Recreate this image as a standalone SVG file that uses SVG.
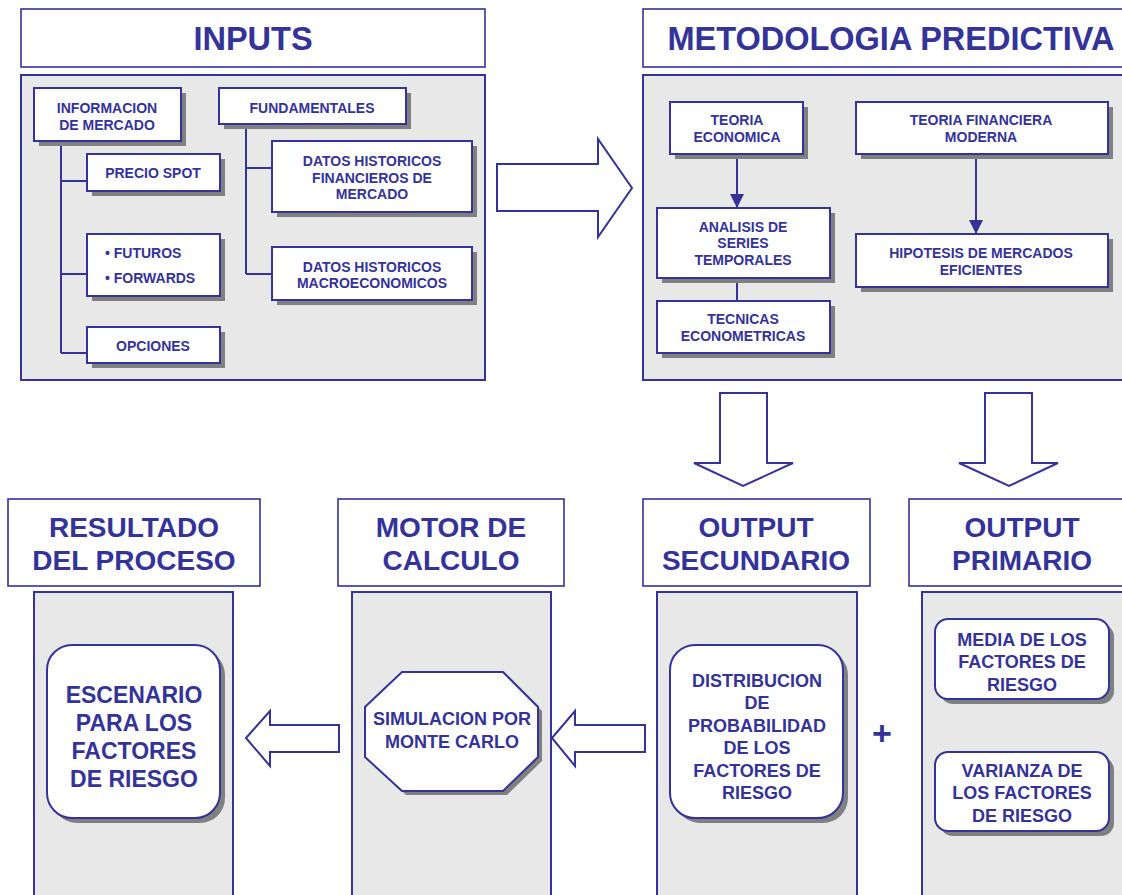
<svg xmlns="http://www.w3.org/2000/svg" width="1122" height="895" viewBox="0 0 1122 895">
<style>
text{font-family:"Liberation Sans",Arial,sans-serif;font-weight:bold;fill:#333399;text-anchor:middle}
.t32{font-size:32.5px}.t28{font-size:28px}.t23{font-size:23px}.t18{font-size:18px}.t14{font-size:14px}
.title{fill:#fff;stroke:#333399;stroke-width:1.6}
.panel{fill:#e8e8e8;stroke:#333399;stroke-width:2}
.box{fill:#fff;stroke:#333399;stroke-width:2}
.sh{fill:#808080;stroke:none}
.bigarrow{fill:#fff;stroke:#333399;stroke-width:2;stroke-linejoin:miter}
.line{fill:none;stroke:#333399;stroke-width:2}
</style>
<defs>
<marker id="ah" viewBox="0 0 14 14" refX="14" refY="7" markerWidth="14" markerHeight="14" markerUnits="userSpaceOnUse" orient="auto"><path d="M0,0 L14,7 L0,14 Z" fill="#333399"/></marker>
</defs>

<!-- Section headers and panels -->
<g id="inputs-title"><rect class="title" x="21" y="9" width="464" height="58"/><text class="t32" x="253" y="50">INPUTS</text></g>
<g id="inputs-panel"><rect class="panel" x="21" y="75" width="464" height="305"/></g>
<g id="metodologia-title"><rect class="title" x="643" y="9" width="496" height="58"/><text class="t32" x="891" y="50">METODOLOGIA PREDICTIVA</text></g>
<g id="metodologia-panel"><rect class="panel" x="643" y="75" width="496" height="305"/></g>
<g id="resultado-title"><rect class="title" x="8" y="499" width="252" height="87"/><text class="t28" x="134" y="537">RESULTADO</text><text class="t28" x="134" y="570">DEL PROCESO</text></g>
<g id="resultado-panel"><rect class="panel" x="34" y="592" width="199" height="310"/></g>
<g id="motor-title"><rect class="title" x="338" y="499" width="226" height="87"/><text class="t28" x="451" y="537">MOTOR DE</text><text class="t28" x="451" y="570">CALCULO</text></g>
<g id="motor-panel"><rect class="panel" x="352" y="592" width="199" height="310"/></g>
<g id="secundario-title"><rect class="title" x="643" y="499" width="227" height="87"/><text class="t28" x="756" y="537">OUTPUT</text><text class="t28" x="756" y="570">SECUNDARIO</text></g>
<g id="secundario-panel"><rect class="panel" x="657" y="592" width="200" height="310"/></g>
<g id="primario-title"><rect class="title" x="909" y="499" width="226" height="87"/><text class="t28" x="1022" y="537">OUTPUT</text><text class="t28" x="1022" y="570">PRIMARIO</text></g>
<g id="primario-panel"><rect class="panel" x="922" y="592" width="204" height="310"/></g>

<g id="connectors">
<path class="line" d="M61,141 V353 M61,181 H87 M61,274 H87 M61,353 H87"/>
<path class="line" d="M246,124 V274 M246,168 H272 M246,274 H272"/>
<path class="line" d="M737,154 V208" marker-end="url(#ah)"/>
<path class="line" d="M976,154 V234" marker-end="url(#ah)"/>
<path class="line" d="M737,278 V301"/>
<polygon class="bigarrow" points="497,164 598,164 598,139 632,188 598,237 598,211 497,211"/>
<polygon class="bigarrow" points="720,393 767,393 767,463 793,463 743,486 694,463 720,463"/>
<polygon class="bigarrow" points="985,393 1032,393 1032,463 1058,463 1009,486 959,463 985,463"/>
<polygon class="bigarrow" points="552,738 575,711 575,725 645,725 645,752 575,752 575,766"/>
<polygon class="bigarrow" points="246,738 270,711 270,725 339,725 339,752 270,752 270,766"/>
</g>

<g id="informacion"><rect class="sh" x="39" y="93" width="147" height="53"/><rect class="box" x="34" y="88" width="147" height="53"/><text class="t14" x="107" y="113">INFORMACION</text><text class="t14" x="107" y="130">DE MERCADO</text></g>
<g id="fundamentales"><rect class="sh" x="224" y="93" width="187" height="36"/><rect class="box" x="219" y="88" width="187" height="36"/><text class="t14" x="312" y="113">FUNDAMENTALES</text></g>
<g id="precio-spot"><rect class="sh" x="92" y="159" width="133" height="37"/><rect class="box" x="87" y="154" width="133" height="37"/><text class="t14" x="153" y="178">PRECIO SPOT</text></g>
<g id="futuros"><rect class="sh" x="92" y="239" width="133" height="62"/><rect class="box" x="87" y="234" width="133" height="62"/><text class="t14" x="105" y="258" style="text-anchor:start">• FUTUROS</text><text class="t14" x="105" y="283" style="text-anchor:start">• FORWARDS</text></g>
<g id="opciones"><rect class="sh" x="92" y="332" width="133" height="36"/><rect class="box" x="87" y="327" width="133" height="36"/><text class="t14" x="153" y="351">OPCIONES</text></g>
<g id="datos-fin"><rect class="sh" x="277" y="146" width="200" height="71"/><rect class="box" x="272" y="141" width="200" height="71"/><text class="t14" x="372" y="166">DATOS HISTORICOS</text><text class="t14" x="372" y="183">FINANCIEROS DE</text><text class="t14" x="372" y="199">MERCADO</text></g>
<g id="datos-macro"><rect class="sh" x="277" y="252" width="200" height="53"/><rect class="box" x="272" y="247" width="200" height="53"/><text class="t14" x="372" y="272">DATOS HISTORICOS</text><text class="t14" x="372" y="288">MACROECONOMICOS</text></g>

<g id="teoria-eco"><rect class="sh" x="675" y="107" width="133" height="52"/><rect class="box" x="670" y="102" width="133" height="52"/><text class="t14" x="737" y="125">TEORIA</text><text class="t14" x="737" y="142">ECONOMICA</text></g>
<g id="teoria-fin"><rect class="sh" x="861" y="107" width="252" height="52"/><rect class="box" x="856" y="102" width="252" height="52"/><text class="t14" x="981" y="125">TEORIA FINANCIERA</text><text class="t14" x="981" y="142">MODERNA</text></g>
<g id="analisis"><rect class="sh" x="662" y="213" width="173" height="70"/><rect class="box" x="657" y="208" width="173" height="70"/><text class="t14" x="743" y="232">ANALISIS DE</text><text class="t14" x="743" y="248">SERIES</text><text class="t14" x="743" y="265">TEMPORALES</text></g>
<g id="tecnicas"><rect class="sh" x="662" y="306" width="173" height="52"/><rect class="box" x="657" y="301" width="173" height="52"/><text class="t14" x="743" y="324">TECNICAS</text><text class="t14" x="743" y="341">ECONOMETRICAS</text></g>
<g id="hipotesis"><rect class="sh" x="861" y="239" width="252" height="53"/><rect class="box" x="856" y="234" width="252" height="53"/><text class="t14" x="981" y="258">HIPOTESIS DE MERCADOS</text><text class="t14" x="981" y="275">EFICIENTES</text></g>

<g id="escenario"><rect class="sh" x="52" y="650" width="173" height="173" rx="25"/><rect class="box" x="47" y="645" width="173" height="173" rx="25"/><text class="t23" x="134" y="703">ESCENARIO</text><text class="t23" x="134" y="731">PARA LOS</text><text class="t23" x="134" y="759">FACTORES</text><text class="t23" x="134" y="787">DE RIESGO</text></g>
<g id="simulacion"><polygon class="sh" points="406,676 507,676 542,711 542,761 507,795 406,795 369,761 369,711"/><polygon class="box" points="402,672 503,672 538,707 538,757 503,791 402,791 365,757 365,707"/><text class="t18" x="452" y="725">SIMULACION POR</text><text class="t18" x="452" y="748">MONTE CARLO</text></g>
<g id="distribucion"><rect class="sh" x="675" y="650" width="173" height="173" rx="25"/><rect class="box" x="670" y="645" width="173" height="173" rx="25"/><text class="t18" x="757" y="687">DISTRIBUCION</text><text class="t18" x="757" y="709">DE</text><text class="t18" x="757" y="732">PROBABILIDAD</text><text class="t18" x="757" y="754">DE LOS</text><text class="t18" x="757" y="777">FACTORES DE</text><text class="t18" x="757" y="799">RIESGO</text></g>
<g id="plus"><text x="882" y="745" style="font-size:34px">+</text></g>
<g id="media"><rect class="sh" x="940" y="624" width="174" height="80" rx="13"/><rect class="box" x="935" y="619" width="174" height="80" rx="13"/><text class="t18" x="1022" y="646">MEDIA DE LOS</text><text class="t18" x="1022" y="668">FACTORES DE</text><text class="t18" x="1022" y="691">RIESGO</text></g>
<g id="varianza"><rect class="sh" x="940" y="757" width="174" height="79" rx="13"/><rect class="box" x="935" y="752" width="174" height="79" rx="13"/><text class="t18" x="1022" y="777">VARIANZA DE</text><text class="t18" x="1022" y="799">LOS FACTORES</text><text class="t18" x="1022" y="822">DE RIESGO</text></g>
</svg>
